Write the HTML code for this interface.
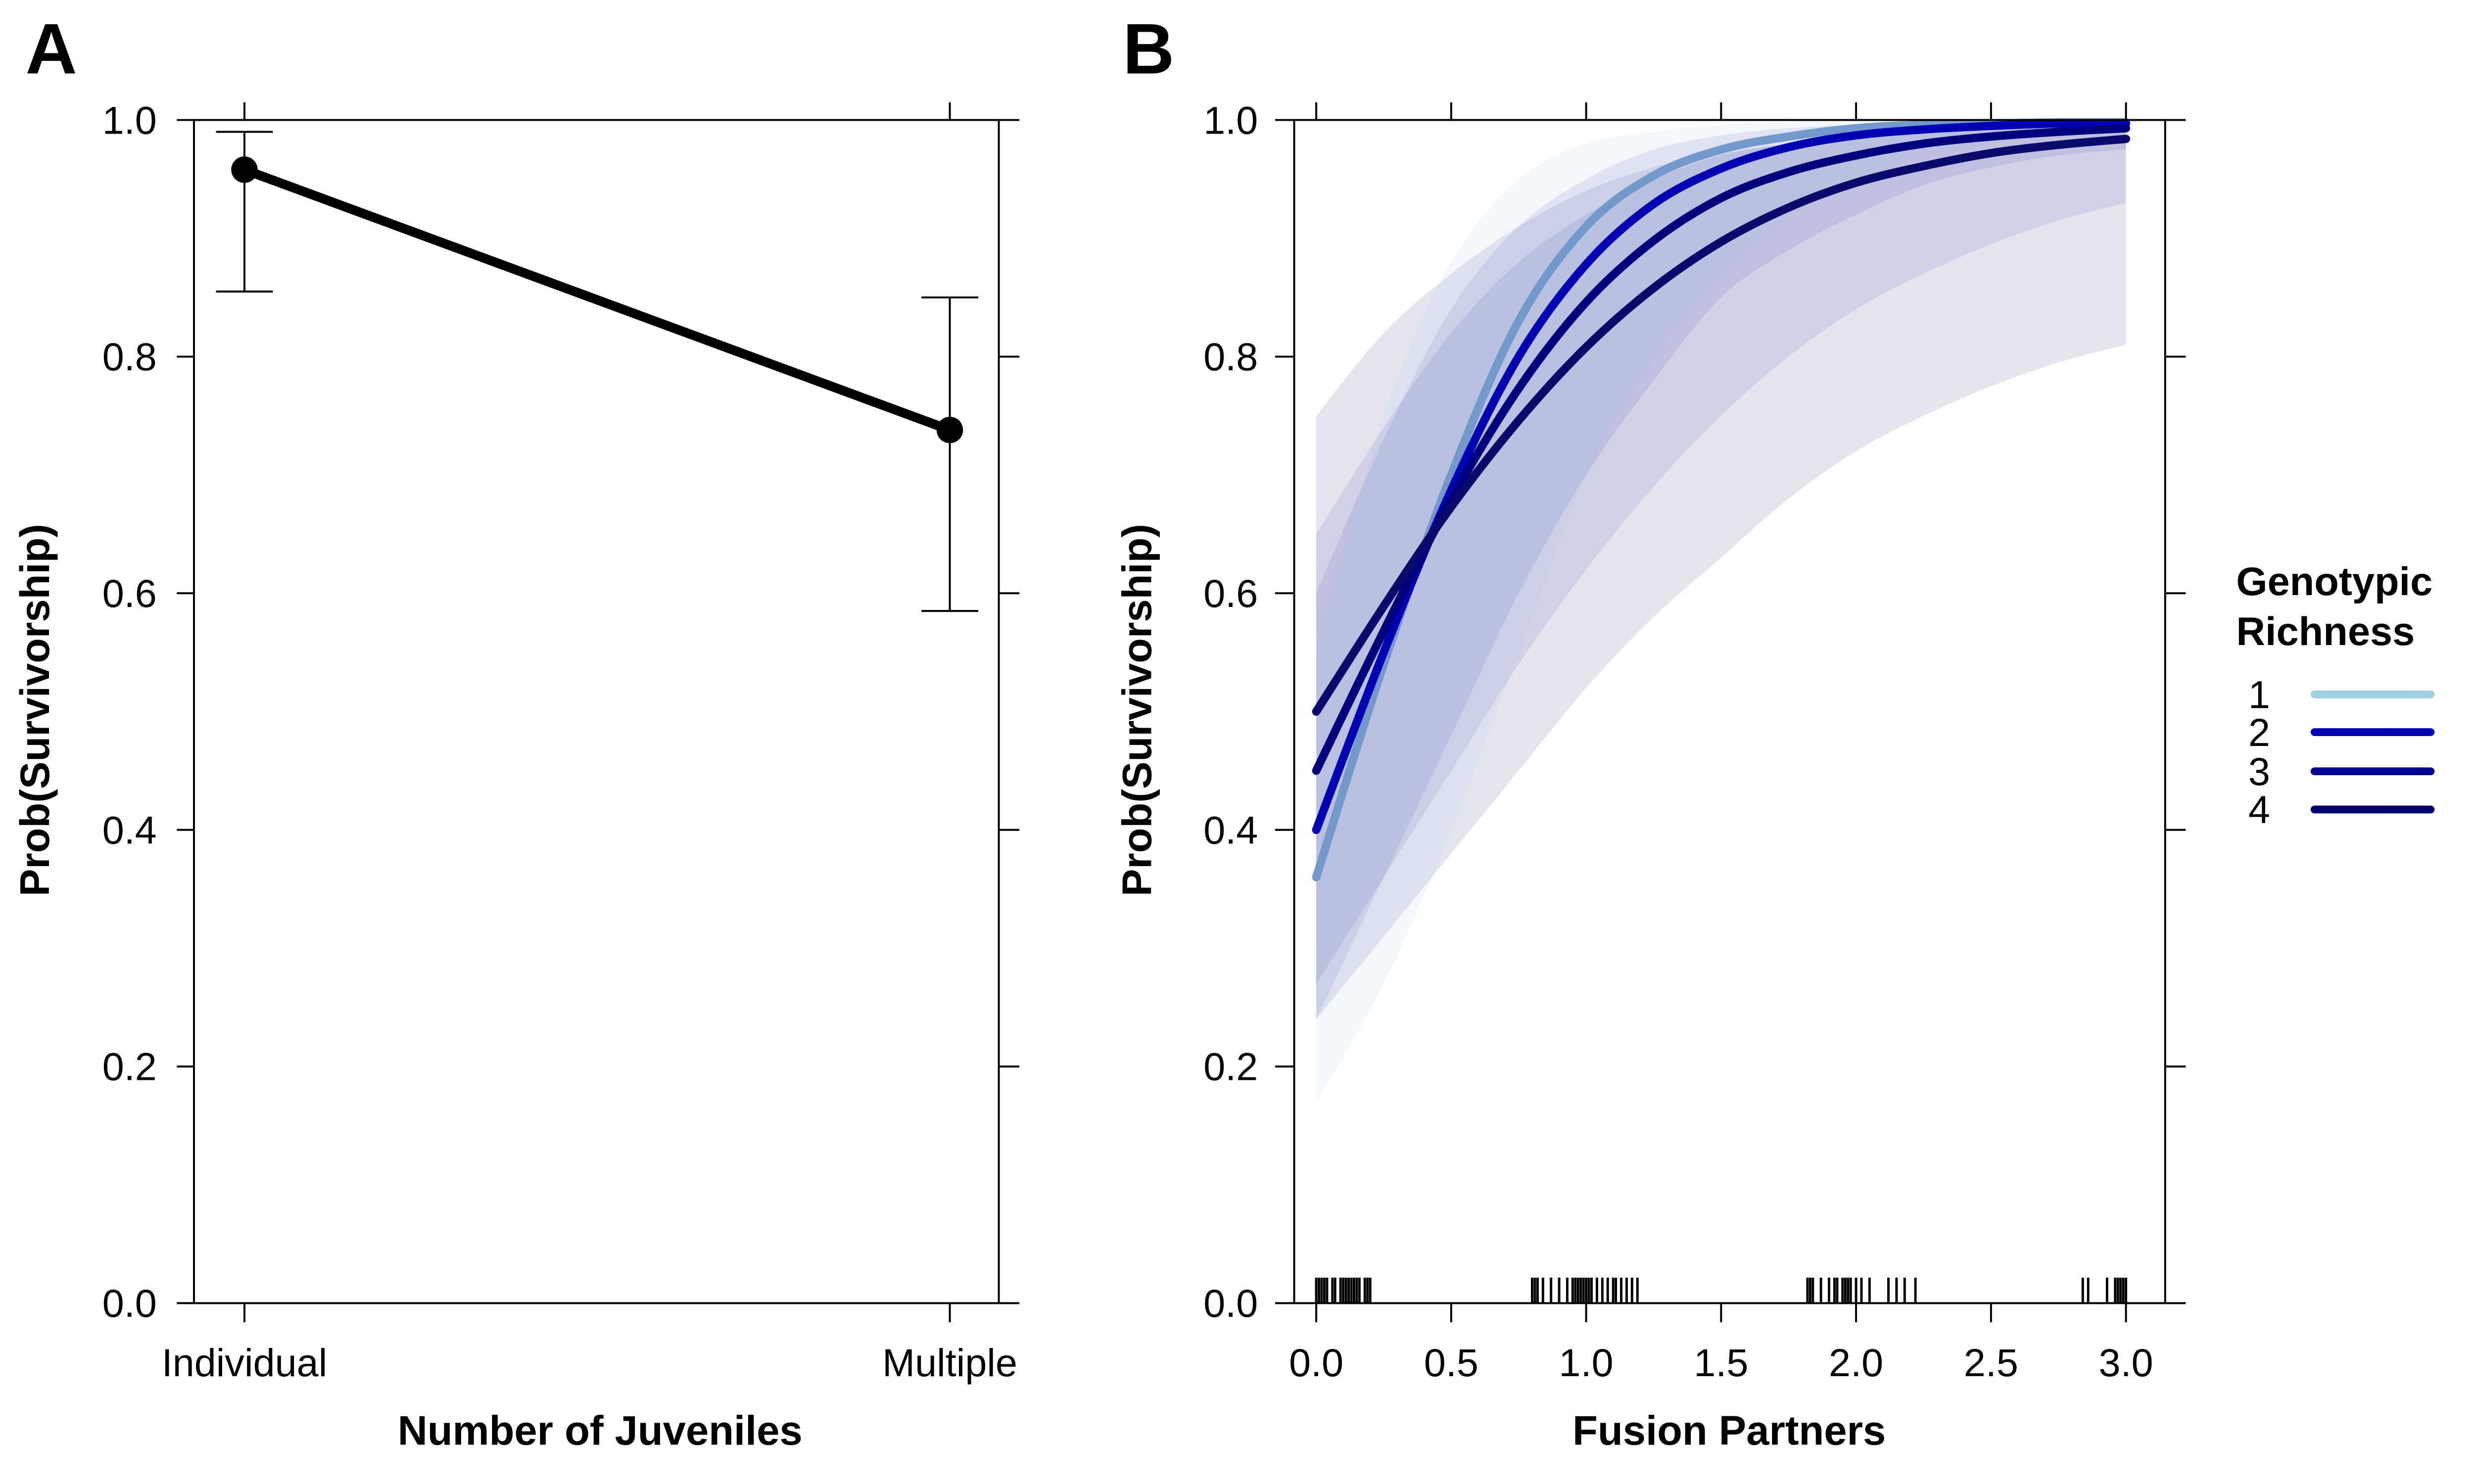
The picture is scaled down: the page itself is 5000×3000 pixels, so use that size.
<!DOCTYPE html>
<html><head><meta charset="utf-8">
<style>
html,body{margin:0;padding:0;background:#fff;}
svg{display:block;font-family:"Liberation Sans",Arial,sans-serif;}
</style></head>
<body>
<svg id="fig" width="5000" height="3000" viewBox="0 0 5000 3000" xmlns="http://www.w3.org/2000/svg"><g id="root" transform="scale(0.99)"></g></svg>
<script>
// ---- Panel A data ----
const catsA = ["Individual","Multiple"];
const probA = [0.958, 0.738];
const lowA = [0.855, 0.585];
const highA = [0.990, 0.850];
const yTicks = [0.0,0.2,0.4,0.6,0.8,1.0];
const yTickLabels = ["0.0","0.2","0.4","0.6","0.8","1.0"];
// ---- Panel B data ----
const xB = [0,0.25,0.5,0.75,1,1.25,1.5,1.75,2,2.25,2.5,2.75,3];
const xTicksB = [0,0.5,1,1.5,2,2.5,3];
const xTickLabelsB = ["0.0","0.5","1.0","1.5","2.0","2.5","3.0"];
const richness = ["1","2","3","4"];
const fit1 = [0.36,0.54,0.70,0.83,0.91,0.953,0.975,0.986,0.993,0.996,0.997,0.998,0.998];
const fit2 = [0.40,0.55,0.687,0.80,0.878,0.929,0.959,0.977,0.987,0.992,0.995,0.997,0.997];
const fit3 = [0.45,0.568,0.679,0.773,0.846,0.898,0.934,0.956,0.970,0.980,0.986,0.990,0.993];
const fit4 = [0.50,0.589,0.673,0.746,0.808,0.858,0.897,0.926,0.947,0.961,0.972,0.979,0.984];
const lo1 = [0.17,0.27,0.40,0.55,0.70,0.80,0.87,0.92,0.95,0.97,0.98,0.99,0.99];
const hi1 = [0.55,0.75,0.88,0.95,0.98,0.99,0.996,0.998,1,1,1,1,1];
const lo2 = [0.24,0.36,0.48,0.60,0.70,0.78,0.85,0.89,0.92,0.945,0.96,0.97,0.975];
const hi2 = [0.60,0.73,0.84,0.91,0.95,0.975,0.987,0.993,0.996,0.998,0.999,1,1];
const lo3 = [0.27,0.36,0.45,0.54,0.62,0.69,0.75,0.80,0.84,0.87,0.895,0.915,0.93];
const hi3 = [0.65,0.74,0.82,0.88,0.92,0.95,0.97,0.98,0.988,0.992,0.995,0.997,0.998];
const lo4 = [0.24,0.31,0.38,0.45,0.52,0.58,0.63,0.68,0.72,0.75,0.775,0.795,0.81];
const hi4 = [0.75,0.82,0.87,0.91,0.94,0.96,0.972,0.98,0.986,0.99,0.993,0.995,0.996];
const rug = [0.0,0.01,0.02,0.03,0.04,0.06,0.07,0.09,0.1,0.11,0.12,0.13,0.14,0.15,0.16,0.18,0.19,0.2,
 0.8,0.81,0.82,0.84,0.87,0.9,0.93,0.95,0.96,0.97,0.98,0.99,1.0,1.01,1.02,1.04,1.06,1.08,1.1,1.11,1.13,1.15,1.17,1.19,
 1.82,1.83,1.84,1.87,1.9,1.92,1.93,1.95,1.96,1.97,1.98,2.0,2.02,2.05,2.12,2.15,2.18,2.22,
 2.84,2.86,2.93,2.96,2.97,2.98,2.99,3.0];

const svg = document.getElementById('root');
const NS = "http://www.w3.org/2000/svg";
function mk(tag, attrs, parent){
  const e = document.createElementNS(NS, tag);
  for (const k in attrs) e.setAttribute(k, attrs[k]);
  (parent||svg).appendChild(e);
  return e;
}
function addText(parent,x,y,txt,size,name,opts){
  const t=mk('text',Object.assign({x:x,y:y,'font-size':size},opts||{}),parent);
  t.textContent=txt;
  
  
  return t;
}
const yTop=245, yBot=2661;
function ys(v){ return yBot - v*(yBot-yTop); }
const TS=80;

// ===== Panel A =====
const gA = mk('g',{});


const ax0=396, ax1=2039;
const catX=[499,1939];
function xa(i){ return catX[i]; }
const boxA = mk('rect',{x:ax0,y:yTop,width:ax1-ax0,height:yBot-yTop,fill:'none',stroke:'#000','stroke-width':4},gA);


yTicks.forEach((v,i)=>{
  const y=ys(v);
  mk('line',{x1:361,x2:ax0,y1:y,y2:y,stroke:'#000','stroke-width':4},gA);
  mk('line',{x1:ax1,x2:2081,y1:y,y2:y,stroke:'#000','stroke-width':4},gA);
  addText(gA,320,y+28,yTickLabels[i],TS,'y-tick-label',{'text-anchor':'end'});
});
catsA.forEach((c,i)=>{
  const x=xa(i);
  mk('line',{x1:x,x2:x,y1:yTop,y2:209,stroke:'#000','stroke-width':4},gA);
  mk('line',{x1:x,x2:x,y1:yBot,y2:2700,stroke:'#000','stroke-width':4},gA);
  addText(gA,x,2810,c,TS,'x-category-label',{'text-anchor':'middle'});
});
catsA.forEach((c,i)=>{
  const x=xa(i);
  const eb=mk('g',{},gA);
  
  
  mk('line',{x1:x,x2:x,y1:ys(lowA[i]),y2:ys(highA[i]),stroke:'#000','stroke-width':4},eb);
  mk('line',{x1:x-58,x2:x+58,y1:ys(lowA[i]),y2:ys(lowA[i]),stroke:'#000','stroke-width':4},eb);
  mk('line',{x1:x-58,x2:x+58,y1:ys(highA[i]),y2:ys(highA[i]),stroke:'#000','stroke-width':4},eb);
});
const lnA=mk('polyline',{points:catsA.map((c,i)=>xa(i)+','+ys(probA[i])).join(' '),fill:'none',stroke:'#000','stroke-width':19},gA);


catsA.forEach((c,i)=>{
  const p=mk('circle',{cx:xa(i),cy:ys(probA[i]),r:27,fill:'#000'},gA);
  
  
});
addText(svg,52,150,'A',146,'panel-a-label',{'font-weight':'bold'});
addText(svg,2292,150,'B',146,'panel-b-label',{'font-weight':'bold'});
addText(svg,0,0,'Prob(Survivorship)',84,'y-axis-title-a',{transform:'translate(100,1450) rotate(-90)','text-anchor':'middle','font-weight':'bold','font-family':'"Liberation Sans Narrow","Liberation Sans",sans-serif'});
addText(svg,1225,2950,'Number of Juveniles',84,'x-axis-title-a',{'text-anchor':'middle','font-weight':'bold'});

// ===== Panel B =====
const gB=mk('g',{});


const bx0=2642, bx1=4420;
function xs(v){ return 2687 + v*(4340-2687)/3; }
function pathThrough(xv, yv){
  const P=xv.map((x,i)=>[xs(x),ys(yv[i])]);
  let d='M'+P[0][0]+','+P[0][1];
  for(let i=0;i<P.length-1;i++){
    const p0=P[i-1]||P[i], p1=P[i], p2=P[i+1], p3=P[i+2]||P[i+1];
    const c1=[p1[0]+(p2[0]-p0[0])/6, p1[1]+(p2[1]-p0[1])/6];
    const c2=[p2[0]-(p3[0]-p1[0])/6, p2[1]-(p3[1]-p1[1])/6];
    d+=' C'+c1[0]+','+c1[1]+' '+c2[0]+','+c2[1]+' '+p2[0]+','+p2[1];
  }
  return d;
}
function bandPath(lo,hi){
  const up=pathThrough(xB,hi);
  const rx=xB.slice().reverse(), rl=lo.slice().reverse();
  const down=pathThrough(rx,rl).replace(/^M/,' L');
  return up+down+' Z';
}
const bandCols=['rgba(158,202,225,0.13)','rgba(10,10,160,0.09)','rgba(10,10,140,0.09)','rgba(0,0,110,0.10)'];
const los=[lo1,lo2,lo3,lo4], his=[hi1,hi2,hi3,hi4], fits=[fit1,fit2,fit3,fit4];
const lineCols=['#7399cb','#0000b4','#00007e','#0a0a6c'];
const legCols=['#9fcfe0','#0000b4','#000090','#000070'];
[3,2,1,0].forEach(k=>{
  const b=mk('path',{d:bandPath(los[k],his[k]),fill:bandCols[k]},gB);
  
  
});
[0,1,2,3].forEach(k=>{
  const l=mk('path',{d:pathThrough(xB,fits[k]),fill:'none',stroke:lineCols[k],'stroke-width':17,'stroke-linecap':'round'},gB);
  
  
});
rug.forEach(v=>{
  const r=mk('line',{x1:xs(v),x2:xs(v),y1:2609,y2:yBot,stroke:'#000','stroke-width':5},gB);
  
  
});
const boxB=mk('rect',{x:bx0,y:yTop,width:bx1-bx0,height:yBot-yTop,fill:'none',stroke:'#000','stroke-width':4},gB);


yTicks.forEach((v,i)=>{
  const y=ys(v);
  mk('line',{x1:2603,x2:bx0,y1:y,y2:y,stroke:'#000','stroke-width':4},gB);
  mk('line',{x1:bx1,x2:4462,y1:y,y2:y,stroke:'#000','stroke-width':4},gB);
  addText(gB,2568,y+28,yTickLabels[i],TS,'y-tick-label',{'text-anchor':'end'});
});
xTicksB.forEach((v,i)=>{
  const x=xs(v);
  mk('line',{x1:x,x2:x,y1:yTop,y2:209,stroke:'#000','stroke-width':4},gB);
  mk('line',{x1:x,x2:x,y1:yBot,y2:2700,stroke:'#000','stroke-width':4},gB);
  addText(gB,x,2810,xTickLabelsB[i],TS,'x-tick-label',{'text-anchor':'middle'});
});
addText(svg,0,0,'Prob(Survivorship)',84,'y-axis-title-b',{transform:'translate(2350,1450) rotate(-90)','text-anchor':'middle','font-weight':'bold','font-family':'"Liberation Sans Narrow","Liberation Sans",sans-serif'});
addText(svg,3530,2950,'Fusion Partners',84,'x-axis-title-b',{'text-anchor':'middle','font-weight':'bold'});

// legend
const gL=mk('g',{});


addText(gL,4565,1215,'Genotypic',82,'legend-title',{'font-weight':'bold'});
addText(gL,4565,1317,'Richness',82,'legend-title',{'font-weight':'bold'});
const legY=[1418,1495,1575,1653];
richness.forEach((r,k)=>{
  const e=mk('g',{},gL);
  
  
  addText(e,4612,legY[k]+28,r,TS,'legend-label',{'text-anchor':'middle'});
  mk('line',{x1:4725,x2:4962,y1:legY[k],y2:legY[k],stroke:legCols[k],'stroke-width':16,'stroke-linecap':'round'},e);
});
</script>
</body></html>
